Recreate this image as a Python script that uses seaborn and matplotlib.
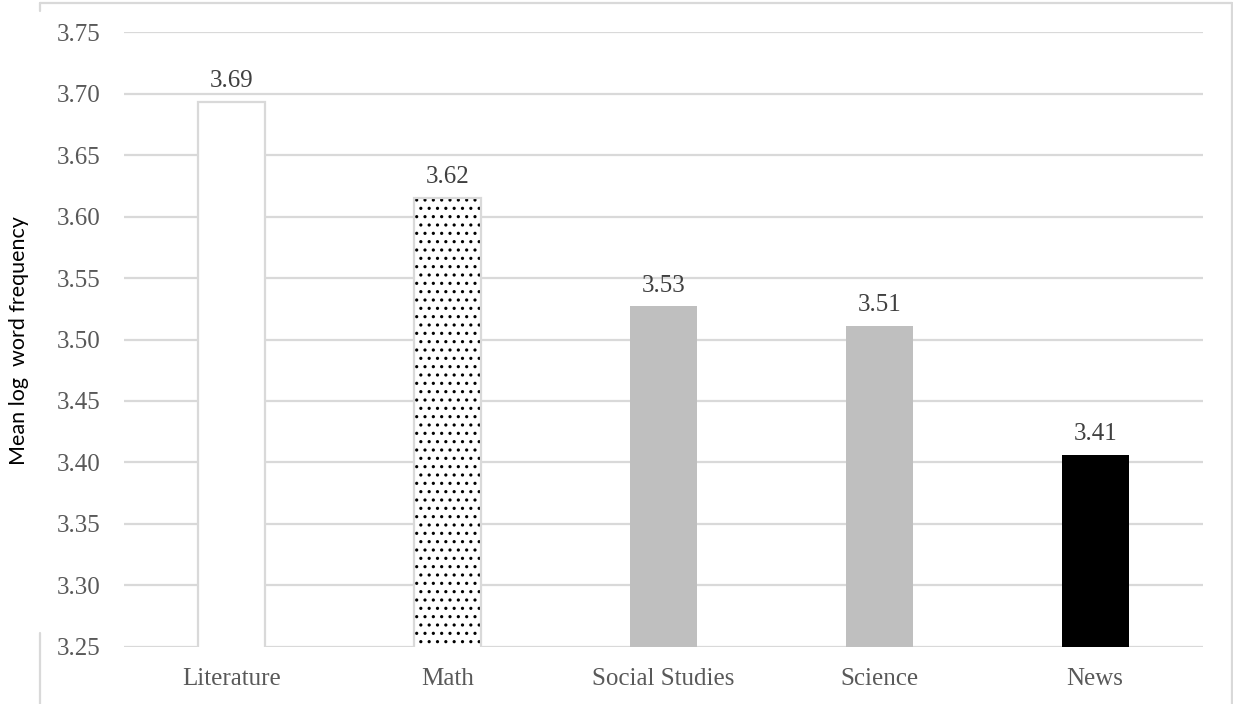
import matplotlib
matplotlib.use("Agg")
import matplotlib.pyplot as plt
from matplotlib.lines import Line2D
from matplotlib.patches import Rectangle
import seaborn as sns
import pandas as pd

categories = ["Literature", "Math", "Social Studies", "Science", "News"]
mean_log_freq = [3.693, 3.615, 3.527, 3.511, 3.406]
y_ticks = [3.25, 3.30, 3.35, 3.40, 3.45, 3.50, 3.55, 3.60, 3.65, 3.70, 3.75]

fills = ["#ffffff", "#ffffff", "#bfbfbf", "#bfbfbf", "#000000"]
grid_col = "#d9d9d9"
text_col = "#595959"

sns.set_theme(style="white")
plt.rcParams["font.family"] = ["Liberation Serif", "DejaVu Serif"]
plt.rcParams["hatch.linewidth"] = 1.1

df = pd.DataFrame({"genre": categories, "freq": mean_log_freq})

fig = plt.figure(figsize=(12.33, 7.04), dpi=100)
ax = fig.add_axes([0.1006, 0.081, 0.8751, 0.8735])

sns.barplot(data=df, x="genre", y="freq", hue="genre",
            palette=dict(zip(categories, fills)), width=0.31,
            legend=False, ax=ax, saturation=1)

patches = list(ax.patches)
for i, p in enumerate(patches):
    if i == 0:
        p.set_edgecolor(grid_col)
        p.set_linewidth(1.6)
    elif i == 1:
        # dotted fill: hatch takes the edge colour, so outline it again in grey
        p.set_hatch("..")
        p.set_edgecolor("black")
        p.set_linewidth(0)
        ax.add_patch(Rectangle((p.get_x(), p.get_y()), p.get_width(),
                               p.get_height(), fill=False,
                               edgecolor=grid_col, linewidth=1.6, zorder=p.get_zorder() + 0.1))
    else:
        p.set_linewidth(0)

ax.set_ylim(3.25, 3.75)
ax.set_yticks(y_ticks)
ax.set_yticklabels([f"{t:.2f}" for t in y_ticks])
ax.yaxis.grid(True, color=grid_col, linewidth=1.6)
ax.set_axisbelow(True)
for s in ax.spines.values():
    s.set_visible(False)

ax.tick_params(axis="y", length=0, pad=17, labelsize=18, labelcolor=text_col)
ax.tick_params(axis="x", length=0, pad=15, labelsize=18, labelcolor=text_col)
ax.set_xlabel("")
ax.set_ylabel("")
fig.text(19 / 1233, 1 - 341 / 704, "Mean log  word frequency", rotation=90,
         ha="center", va="center", fontsize=15.5, color="#000000",
         family=["Lato", "Liberation Sans", "DejaVu Sans"])

for c in ax.containers:
    ax.bar_label(c, labels=[f"{v:.2f}" for v in c.datavalues], padding=7,
                 fontsize=18, color="#404040")

# chart-area border
W, H = 1233, 704
def fx(x):
    return x / W
def fy(y):
    return 1 - y / H
for xs, ys in [((40, 1232), (3, 3)), ((1232, 1232), (3, 704)),
               ((40, 40), (3, 11)), ((40, 40), (633, 704))]:
    fig.add_artist(Line2D([fx(xs[0]), fx(xs[1])], [fy(ys[0]), fy(ys[1])],
                          color=grid_col, linewidth=1.6))

fig.savefig("out.png", dpi=100)
